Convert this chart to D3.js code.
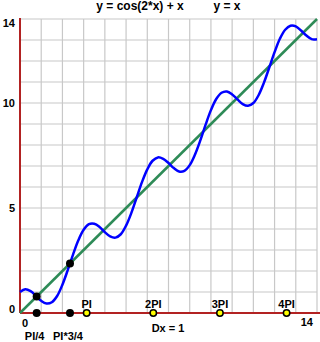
<!DOCTYPE html>
<html lang="en">
<head>
<meta charset="UTF-8">
<title>y = cos(2*x) + x</title>
<script src="https://cdn.jsdelivr.net/npm/d3@7"></script>
<style>
body { margin: 0; background: #fff; }
text { font-family: "Liberation Sans", Arial, sans-serif; font-weight: bold; fill: #000; }
</style>
</head>
<body>
<script>

var w = 320;
var h = 342;

// curve values, x step 0.25
var curveX = d3.range(0, 14.01, 0.25);
var curveY = [1.00, 1.13, 1.04, 0.82, 0.58, 0.45, 0.51, 0.81, 1.35, 2.04, 2.78, 3.46,
              3.96, 4.23, 4.25, 4.10, 3.85, 3.65, 3.59, 3.75, 4.16, 4.77, 5.50, 6.23,
              6.84, 7.25, 7.41, 7.34, 7.14, 6.90, 6.74, 6.77, 7.04, 7.55, 8.22, 8.97,
              9.66, 10.19, 10.49, 10.55, 10.41, 10.17, 9.95, 9.87, 10.00, 10.38, 10.97, 11.69,
              12.42, 13.06, 13.49, 13.68, 13.65, 13.45, 13.21, 13.04, 13.04];
var lineX = [0, 14];
var lineY = [0, 14];

var crossX = [Math.PI / 4, 3 * Math.PI / 4];
var crossLabels = ["PI/4", "PI*3/4"];
var piX = [Math.PI, 2 * Math.PI, 3 * Math.PI, 4 * Math.PI];
var piLabels = ["PI", "2PI", "3PI", "4PI"];
var yTicks = [0, 5, 10, 14];
var gridTicks = d3.range(1, 15);

var x = d3.scaleLinear().domain([0, 14]).range([20, 317]);
var y = d3.scaleLinear().domain([0, 14]).range([313, 19]);

var svg = d3.select("body").append("svg")
    .attr("width", w)
    .attr("height", h);

// grid
svg.append("g").selectAll("line").data(gridTicks).enter().append("line")
    .attr("x1", function(d) { return x(d); })
    .attr("x2", function(d) { return x(d); })
    .attr("y1", y(14)).attr("y2", y(0))
    .attr("stroke", "#c8c8c8").attr("stroke-width", 1.2);

svg.append("g").selectAll("line").data(gridTicks).enter().append("line")
    .attr("y1", function(d) { return y(d); })
    .attr("y2", function(d) { return y(d); })
    .attr("x1", x(0)).attr("x2", x(14))
    .attr("stroke", "#c8c8c8").attr("stroke-width", 1.2);

// axes
svg.append("line")
    .attr("x1", x(0)).attr("x2", x(0))
    .attr("y1", y(14) - 1).attr("y2", y(0))
    .attr("stroke", "#b22222").attr("stroke-width", 2);
svg.append("line")
    .attr("x1", x(0)).attr("x2", w)
    .attr("y1", y(0)).attr("y2", y(0))
    .attr("stroke", "#b22222").attr("stroke-width", 2);

// y labels
svg.append("g").selectAll("text").data(yTicks).enter().append("text")
    .attr("x", 15)
    .attr("y", function(d) { return Math.min(Math.max(y(d) + 4, 27), 313); })
    .attr("text-anchor", "end")
    .attr("font-size", 11)
    .text(function(d) { return d; });

// curves
var line = d3.line()
    .x(function(d) { return x(d[0]); })
    .y(function(d) { return y(d[1]); });

svg.append("path")
    .datum(d3.zip(lineX, lineY))
    .attr("d", line)
    .attr("fill", "none")
    .attr("stroke", "#2e8b57")
    .attr("stroke-width", 2.5);

svg.append("path")
    .datum(d3.zip(curveX, curveY))
    .attr("d", line.curve(d3.curveCatmullRom))
    .attr("fill", "none")
    .attr("stroke", "#0000ff")
    .attr("stroke-width", 2.5);

// intersection points and their projections
svg.append("g").selectAll("circle").data(crossX.concat(crossX)).enter().append("circle")
    .attr("cx", function(d) { return x(d); })
    .attr("cy", function(d, i) { return i < 2 ? y(d) : y(0); })
    .attr("r", 4)
    .attr("fill", "#000");

svg.append("g").selectAll("text").data(crossX).enter().append("text")
    .attr("x", function(d) { return x(d) - 2; })
    .attr("y", 340)
    .attr("text-anchor", "middle")
    .attr("font-size", 11)
    .text(function(d, i) { return crossLabels[i]; });

// multiples of PI
svg.append("g").selectAll("circle").data(piX).enter().append("circle")
    .attr("cx", function(d) { return x(d); })
    .attr("cy", y(0))
    .attr("r", 3.2)
    .attr("fill", "#ffff00")
    .attr("stroke", "#000")
    .attr("stroke-width", 1.5);

svg.append("g").selectAll("text").data(piX).enter().append("text")
    .attr("x", function(d) { return x(d); })
    .attr("y", 308)
    .attr("text-anchor", "middle")
    .attr("font-size", 11)
    .text(function(d, i) { return piLabels[i]; });

// x labels
svg.append("text").attr("x", x(0) + 5).attr("y", 327)
    .attr("text-anchor", "middle").attr("font-size", 11).text("0");
svg.append("text").attr("x", 313).attr("y", 326)
    .attr("text-anchor", "end").attr("font-size", 11).text("14");
svg.append("text").attr("x", 168).attr("y", 332)
    .attr("text-anchor", "middle").attr("font-size", 11).text("Dx = 1");

// titles
svg.append("text").attr("x", 140).attr("y", 10)
    .attr("text-anchor", "middle").attr("font-size", 12).text("y = cos(2*x) + x");
svg.append("text").attr("x", 227).attr("y", 10)
    .attr("text-anchor", "middle").attr("font-size", 12).text("y = x");

</script>
</body>
</html>
